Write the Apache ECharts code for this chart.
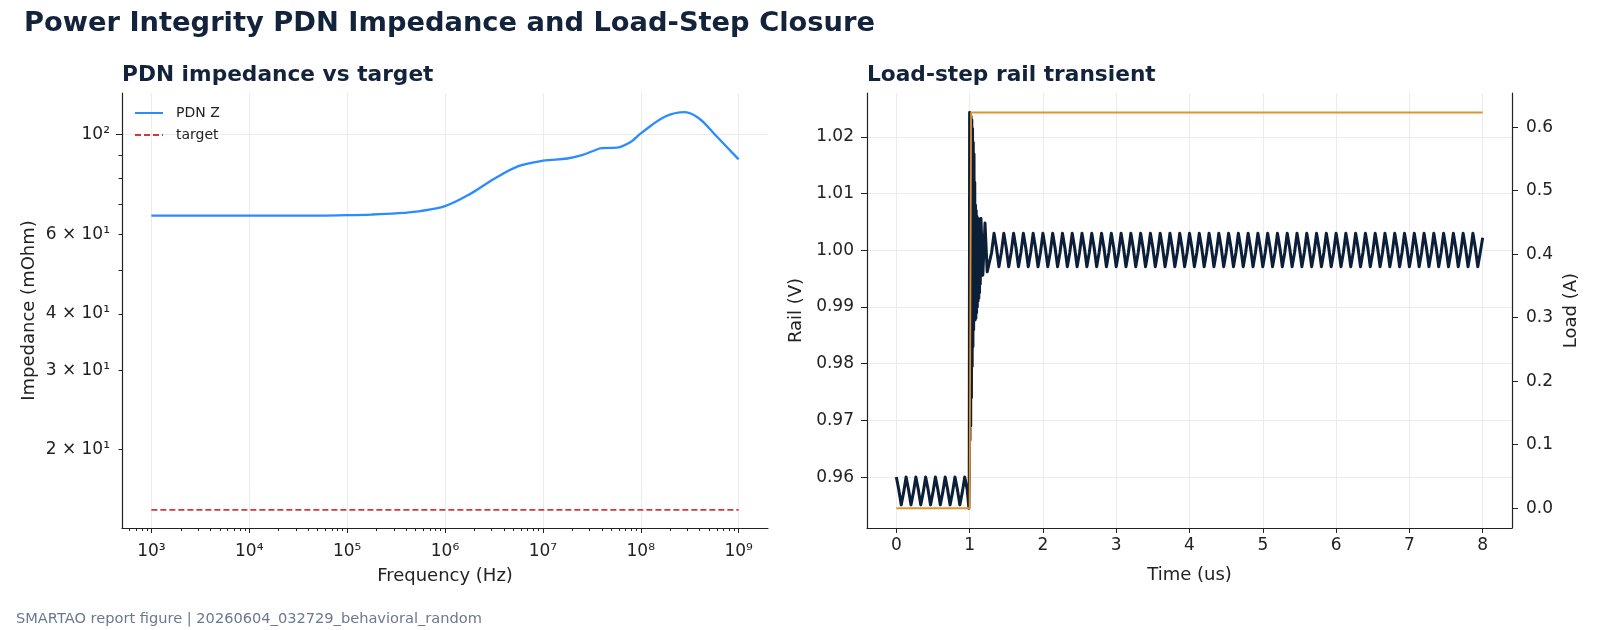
<!DOCTYPE html>
<html>
<head>
<meta charset="utf-8">
<title>Power Integrity PDN Impedance and Load-Step Closure</title>
<script src="https://cdn.jsdelivr.net/npm/echarts@6.0.0/dist/echarts.min.js"></script>
<style>
html, body { margin: 0; padding: 0; background: #fff; }
#chart { width: 1600px; height: 630px; }
</style>
</head>
<body>
<div id="chart"></div>
<script>
// ---- PDN impedance sweep (Hz / mOhm) ----
let pdnFreq = [
    1e3, 3.16e3, 1e4, 3.16e4, 1e5, 1.78e5, 3.16e5, 5.62e5, 1e6, 1.78e6,
    3.16e6, 5.62e6, 1e7, 1.78e7, 2.51e7, 3.16e7, 3.98e7, 5.62e7, 7.94e7, 1e8,
    1.78e8, 2.82e8, 3.98e8, 5.62e8, 1e9
];
let pdnZ = [
    66.0, 66.0, 66.0, 66.0, 66.2, 66.4, 66.8, 67.6, 69.3, 73.6,
    79.6, 85.0, 87.4, 88.4, 89.9, 91.6, 93.2, 93.4, 96.3, 100.5,
    109.5, 112.0, 108.3, 100.3, 88.0
];
let targetFreq = [1e3, 1e9];
let targetZ = [14.7, 14.7];
let freqTicks = [1e3, 1e4, 1e5, 1e6, 1e7, 1e8, 1e9];
let zLabelTicks = [20, 30, 40, 60, 100];
let zMinorTicks = [20, 30, 40, 50, 60, 70, 80, 90];

// ---- load step (us / A) ----
let loadTime = [0, 1.0, 1.02, 8];
let loadAmp = [0, 0, 0.623, 0.623];

// ---- rail voltage (us / V) ----
let railTime = [
    0, 0.0333, 0.0667, 0.1, 0.1333, 0.1667, 0.2, 0.2333, 0.2667, 0.3,
    0.3333, 0.3667, 0.4, 0.4333, 0.4667, 0.5, 0.5333, 0.5667, 0.6, 0.6333,
    0.6667, 0.7, 0.7333, 0.7667, 0.8, 0.8333, 0.8667, 0.9, 0.9333, 0.9667,
    0.98, 0.99,
    0.995, 1.0, 1.005, 1.01, 1.015, 1.02, 1.025, 1.03, 1.035, 1.04,
    1.045, 1.05, 1.055, 1.06, 1.065, 1.07, 1.075, 1.08, 1.085, 1.09,
    1.095, 1.1, 1.105, 1.11, 1.115, 1.12, 1.125, 1.13, 1.135, 1.14, 1.145,
    1.155, 1.18, 1.21, 1.24,
    1.3, 1.3333, 1.3667, 1.4, 1.4333, 1.4667, 1.5, 1.5333, 1.5667, 1.6,
    1.6333, 1.6667, 1.7, 1.7333, 1.7667, 1.8, 1.8333, 1.8667, 1.9, 1.9333, 1.9667,
    2, 2.0333, 2.0667, 2.1, 2.1333, 2.1667, 2.2, 2.2333, 2.2667, 2.3,
    2.3333, 2.3667, 2.4, 2.4333, 2.4667, 2.5, 2.5333, 2.5667, 2.6, 2.6333,
    2.6667, 2.7, 2.7333, 2.7667, 2.8, 2.8333, 2.8667, 2.9, 2.9333, 2.9667,
    3, 3.0333, 3.0667, 3.1, 3.1333, 3.1667, 3.2, 3.2333, 3.2667, 3.3,
    3.3333, 3.3667, 3.4, 3.4333, 3.4667, 3.5, 3.5333, 3.5667, 3.6, 3.6333,
    3.6667, 3.7, 3.7333, 3.7667, 3.8, 3.8333, 3.8667, 3.9, 3.9333, 3.9667,
    4, 4.0333, 4.0667, 4.1, 4.1333, 4.1667, 4.2, 4.2333, 4.2667, 4.3,
    4.3333, 4.3667, 4.4, 4.4333, 4.4667, 4.5, 4.5333, 4.5667, 4.6, 4.6333,
    4.6667, 4.7, 4.7333, 4.7667, 4.8, 4.8333, 4.8667, 4.9, 4.9333, 4.9667,
    5, 5.0333, 5.0667, 5.1, 5.1333, 5.1667, 5.2, 5.2333, 5.2667, 5.3,
    5.3333, 5.3667, 5.4, 5.4333, 5.4667, 5.5, 5.5333, 5.5667, 5.6, 5.6333,
    5.6667, 5.7, 5.7333, 5.7667, 5.8, 5.8333, 5.8667, 5.9, 5.9333, 5.9667,
    6, 6.0333, 6.0667, 6.1, 6.1333, 6.1667, 6.2, 6.2333, 6.2667, 6.3,
    6.3333, 6.3667, 6.4, 6.4333, 6.4667, 6.5, 6.5333, 6.5667, 6.6, 6.6333,
    6.6667, 6.7, 6.7333, 6.7667, 6.8, 6.8333, 6.8667, 6.9, 6.9333, 6.9667,
    7, 7.0333, 7.0667, 7.1, 7.1333, 7.1667, 7.2, 7.2333, 7.2667, 7.3,
    7.3333, 7.3667, 7.4, 7.4333, 7.4667, 7.5, 7.5333, 7.5667, 7.6, 7.6333,
    7.6667, 7.7, 7.7333, 7.7667, 7.8, 7.8333, 7.8667, 7.9, 7.9333, 7.9667,
    8
];
let railVolt = [
    // before the step
    0.9600, 0.9578, 0.9551, 0.9573, 0.9600, 0.9578, 0.9551, 0.9573,
    0.9600, 0.9578, 0.9551, 0.9573, 0.9600, 0.9578, 0.9551, 0.9573,
    0.9600, 0.9578, 0.9551, 0.9573, 0.9600, 0.9578, 0.9551, 0.9573,
    0.9600, 0.9578, 0.9551, 0.9573, 0.9600, 0.9578,
    0.9560, 0.9545,
    // step + ringing
    0.9600, 1.0243, 0.9665, 1.0240, 0.9690, 1.0236, 0.9740, 1.0230, 0.9795, 1.0215,
    0.9830, 1.0190, 0.9860, 1.0170, 0.9880, 1.0120, 0.9877, 1.0080, 0.9880, 1.0070,
    0.9890, 1.0060, 0.9900, 1.0056, 0.9910, 1.0056, 0.9915, 1.0055, 0.9925, 1.0050, 0.9940,
    1.0056, 0.9956, 1.0048, 0.9962,
    // settled ripple
    0.9996,
    1.0030, 1.0004, 0.9971, 0.9996, 1.0030, 1.0004, 0.9971, 0.9996,
    1.0030, 1.0004, 0.9971, 0.9996, 1.0030, 1.0004, 0.9971, 0.9996,
    1.0030, 1.0004, 0.9971, 0.9996, 1.0030, 1.0004, 0.9971, 0.9996,
    1.0030, 1.0004, 0.9971, 0.9996, 1.0030, 1.0004, 0.9971, 0.9996,
    1.0030, 1.0004, 0.9971, 0.9996, 1.0030, 1.0004, 0.9971, 0.9996,
    1.0030, 1.0004, 0.9971, 0.9996, 1.0030, 1.0004, 0.9971, 0.9996,
    1.0030, 1.0004, 0.9971, 0.9996, 1.0030, 1.0004, 0.9971, 0.9996,
    1.0030, 1.0004, 0.9971, 0.9996, 1.0030, 1.0004, 0.9971, 0.9996,
    1.0030, 1.0004, 0.9971, 0.9996, 1.0030, 1.0004, 0.9971, 0.9996,
    1.0030, 1.0004, 0.9971, 0.9996, 1.0030, 1.0004, 0.9971, 0.9996,
    1.0030, 1.0004, 0.9971, 0.9996, 1.0030, 1.0004, 0.9971, 0.9996,
    1.0030, 1.0004, 0.9971, 0.9996, 1.0030, 1.0004, 0.9971, 0.9996,
    1.0030, 1.0004, 0.9971, 0.9996, 1.0030, 1.0004, 0.9971, 0.9996,
    1.0030, 1.0004, 0.9971, 0.9996, 1.0030, 1.0004, 0.9971, 0.9996,
    1.0030, 1.0004, 0.9971, 0.9996, 1.0030, 1.0004, 0.9971, 0.9996,
    1.0030, 1.0004, 0.9971, 0.9996, 1.0030, 1.0004, 0.9971, 0.9996,
    1.0030, 1.0004, 0.9971, 0.9996, 1.0030, 1.0004, 0.9971, 0.9996,
    1.0030, 1.0004, 0.9971, 0.9996, 1.0030, 1.0004, 0.9971, 0.9996,
    1.0030, 1.0004, 0.9971, 0.9996, 1.0030, 1.0004, 0.9971, 0.9996,
    1.0030, 1.0004, 0.9971, 0.9996, 1.0030, 1.0004, 0.9971, 0.9996,
    1.0030, 1.0004, 0.9971, 0.9996, 1.0030, 1.0004, 0.9971, 0.9996,
    1.0030, 1.0004, 0.9971, 0.9996, 1.0030, 1.0004, 0.9971, 0.9996,
    1.0030, 1.0004, 0.9971, 0.9996, 1.0030, 1.0004, 0.9971, 0.9996,
    1.0030, 1.0004, 0.9971, 0.9996, 1.0030, 1.0004, 0.9971, 0.9996,
    1.0030, 1.0004, 0.9971, 0.9996, 1.0030, 1.0004, 0.9971, 0.9996,
    1.0022
];
let timeTicks = [0, 1, 2, 3, 4, 5, 6, 7, 8];
let railTicks = [0.96, 0.97, 0.98, 0.99, 1.00, 1.01, 1.02];
let loadTicks = [0, 0.1, 0.2, 0.3, 0.4, 0.5, 0.6];

let fontFamily = 'DejaVu Sans';
let inkColor = '#222';
let titleColor = '#13233b';
let gridColor = '#ebebf0';
let supDigits = { '0': '⁰', '1': '¹', '2': '²', '3': '³', '4': '⁴', '5': '⁵', '6': '⁶', '7': '⁷', '8': '⁸', '9': '⁹' };

function pow10Label(exp) {
    return '10' + String(exp).split('').map(c => supDigits[c]).join('');
}

// minor log ticks (2..9 x 10^n) inside the frequency axis range
let freqMin = Math.pow(10, 2.7);
let freqMax = Math.pow(10, 9.3);
let freqMinorTicks = [];
for (let d = 2; d <= 9; d++) {
    for (let m = 2; m <= 9; m++) {
        let v = m * Math.pow(10, d);
        if (v > freqMin && v < freqMax) freqMinorTicks.push(v);
    }
}

let axisLine = { show: true, onZero: false, lineStyle: { color: inkColor, width: 1.2 } };
let tickLabel = { color: inkColor, fontSize: 17, fontFamily: fontFamily };
let nameText = { color: inkColor, fontSize: 18, fontFamily: fontFamily };

let option = {
    animation: false,
    backgroundColor: '#fff',
    textStyle: { fontFamily: fontFamily },
    title: [
        {
            text: 'Power Integrity PDN Impedance and Load-Step Closure',
            left: 24, top: 10, padding: 0,
            textStyle: { fontSize: 27.3, fontWeight: 'bold', color: titleColor, fontFamily: fontFamily }
        },
        {
            text: 'PDN impedance vs target',
            left: 122, top: 64, padding: 0,
            textStyle: { fontSize: 21.7, fontWeight: 'bold', color: titleColor, fontFamily: fontFamily }
        },
        {
            text: 'Load-step rail transient',
            left: 867, top: 64, padding: 0,
            textStyle: { fontSize: 21.7, fontWeight: 'bold', color: titleColor, fontFamily: fontFamily }
        },
        {
            text: 'SMARTAO report figure | 20260604_032729_behavioral_random',
            left: 16, top: 612, padding: 0,
            textStyle: { fontSize: 14.6, fontWeight: 'normal', color: '#6b7890', fontFamily: fontFamily }
        }
    ],
    legend: {
        data: ['PDN Z', 'target'],
        orient: 'vertical',
        left: 134, top: 106, padding: 0,
        itemWidth: 28, itemHeight: 14, itemGap: 8,
        itemStyle: { opacity: 0 },
        textStyle: { fontSize: 14, color: inkColor, fontFamily: fontFamily, padding: [0, 0, 0, 8] }
    },
    grid: [
        { left: 122, top: 93, width: 646, height: 435 },
        { left: 867, top: 93, width: 645, height: 435 }
    ],
    xAxis: [
        {
            type: 'log', logBase: 10, gridIndex: 0, position: 'bottom',
            min: freqMin, max: freqMax,
            name: 'Frequency (Hz)', nameLocation: 'middle', nameGap: 39, nameTextStyle: nameText,
            axisLine: axisLine,
            axisTick: { length: 5, lineStyle: { color: inkColor }, customValues: freqTicks },
            axisLabel: Object.assign({ margin: 15, customValues: freqTicks,
                formatter: v => pow10Label(Math.round(Math.log10(v))) }, tickLabel),
            splitLine: { show: true, lineStyle: { color: gridColor, width: 1 } }
        },
        {
            // minor ticks only
            type: 'log', logBase: 10, gridIndex: 0, position: 'bottom',
            min: freqMin, max: freqMax,
            axisLine: { show: false, onZero: false },
            axisTick: { length: 3, lineStyle: { color: inkColor }, customValues: freqMinorTicks },
            axisLabel: { show: false },
            splitLine: { show: false }
        },
        {
            type: 'value', gridIndex: 1, position: 'bottom',
            min: -0.4, max: 8.4,
            name: 'Time (us)', nameLocation: 'middle', nameGap: 38, nameTextStyle: nameText,
            axisLine: axisLine,
            axisTick: { length: 5, lineStyle: { color: inkColor }, customValues: timeTicks },
            axisLabel: Object.assign({ margin: 9, customValues: timeTicks }, tickLabel),
            splitLine: { show: true, lineStyle: { color: gridColor, width: 1 } }
        }
    ],
    yAxis: [
        {
            type: 'log', logBase: 10, gridIndex: 0, position: 'left',
            min: 13.4, max: 123.5,
            name: 'Impedance (mOhm)', nameLocation: 'middle', nameGap: 84, nameTextStyle: nameText,
            axisLine: axisLine,
            axisTick: { length: 6, lineStyle: { color: inkColor }, customValues: [100] },
            axisLabel: Object.assign({ margin: 12, customValues: zLabelTicks,
                formatter: v => (v === 100 ? pow10Label(2) : (v / 10) + ' × ' + pow10Label(1)) }, tickLabel),
            splitLine: { show: true, lineStyle: { color: gridColor, width: 1 } }
        },
        {
            // minor ticks only
            type: 'log', logBase: 10, gridIndex: 0, position: 'left',
            min: 13.4, max: 123.5,
            axisLine: { show: false, onZero: false },
            axisTick: { length: 3.5, lineStyle: { color: inkColor }, customValues: zMinorTicks },
            axisLabel: { show: false },
            splitLine: { show: false }
        },
        {
            type: 'value', gridIndex: 1, position: 'left',
            min: 0.95102, max: 1.02774,
            name: 'Rail (V)', nameLocation: 'middle', nameGap: 62, nameTextStyle: nameText,
            axisLine: axisLine,
            axisTick: { length: 6, lineStyle: { color: inkColor }, customValues: railTicks },
            axisLabel: Object.assign({ margin: 13, customValues: railTicks,
                formatter: v => v.toFixed(2) }, tickLabel),
            splitLine: { show: true, lineStyle: { color: gridColor, width: 1 } }
        },
        {
            type: 'value', gridIndex: 1, position: 'right',
            min: -0.0311, max: 0.6537,
            name: 'Load (A)', nameLocation: 'middle', nameGap: 50, nameRotate: 90, nameTextStyle: nameText,
            axisLine: axisLine,
            axisTick: { length: 6, lineStyle: { color: inkColor }, customValues: loadTicks },
            axisLabel: Object.assign({ margin: 14, customValues: loadTicks,
                formatter: v => v.toFixed(1) }, tickLabel),
            splitLine: { show: false }
        }
    ],
    series: [
        {
            name: 'PDN Z', type: 'line', xAxisIndex: 0, yAxisIndex: 0,
            data: pdnFreq.map((f, i) => [f, pdnZ[i]]),
            smooth: 0.35, symbol: 'none',
            lineStyle: { color: '#2b8cff', width: 2.3 },
            itemStyle: { color: '#2b8cff' }
        },
        {
            name: 'target', type: 'line', xAxisIndex: 0, yAxisIndex: 0,
            data: targetFreq.map((f, i) => [f, targetZ[i]]),
            symbol: 'none',
            lineStyle: { color: '#d0383a', width: 1.6, type: [6, 3] },
            itemStyle: { color: '#d0383a' }
        },
        {
            name: 'rail', type: 'line', xAxisIndex: 2, yAxisIndex: 2,
            data: railTime.map((t, i) => [t, railVolt[i]]),
            symbol: 'none',
            lineStyle: { color: '#0c1f38', width: 3, join: 'round' }
        },
        {
            name: 'load', type: 'line', xAxisIndex: 2, yAxisIndex: 3,
            data: loadTime.map((t, i) => [t, loadAmp[i]]),
            symbol: 'none',
            lineStyle: { color: '#e39230', width: 1.8 }
        }
    ]
};

let myChart = echarts.init(document.getElementById('chart'), null, { renderer: 'canvas' });
myChart.setOption(option, true);
</script>
</body>
</html>
